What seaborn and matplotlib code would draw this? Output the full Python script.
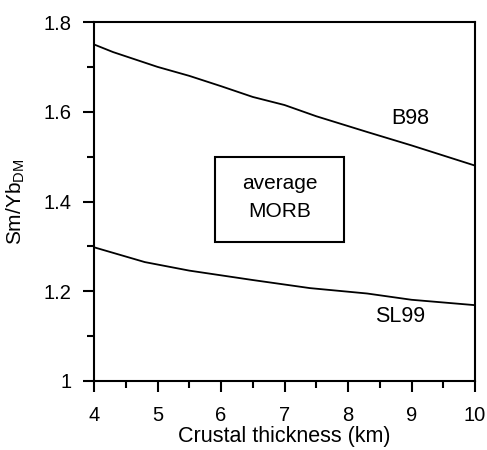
import matplotlib
matplotlib.use("Agg")
import matplotlib.pyplot as plt
import seaborn as sns
import pandas as pd
from matplotlib.ticker import MultipleLocator
from matplotlib.patches import Rectangle

b98_x = [4.0, 4.3, 5.0, 5.5, 6.0, 6.5, 7.0, 7.5, 8.3, 9.0, 10.0]
b98_y = [1.750, 1.733, 1.700, 1.680, 1.657, 1.633, 1.615, 1.590, 1.555, 1.525, 1.480]
sl99_x = [4.0, 4.8, 5.5, 6.5, 7.4, 8.3, 9.0, 10.0]
sl99_y = [1.298, 1.265, 1.246, 1.225, 1.207, 1.195, 1.181, 1.169]
x_ticks = [4, 5, 6, 7, 8, 9, 10]
y_ticks = [1.0, 1.2, 1.4, 1.6, 1.8]
y_tick_labels = ["1", "1.2", "1.4", "1.6", "1.8"]

sns.set_theme(style="white")
plt.rcParams['font.family'] = ['Liberation Sans', 'DejaVu Sans']
plt.rcParams['mathtext.fontset'] = 'custom'
plt.rcParams['mathtext.rm'] = 'Liberation Sans'
plt.rcParams['text.color'] = 'black'
plt.rcParams['axes.labelcolor'] = 'black'
plt.rcParams['xtick.color'] = 'black'
plt.rcParams['ytick.color'] = 'black'

df = pd.concat([
    pd.DataFrame({"x": b98_x, "y": b98_y, "model": "B98"}),
    pd.DataFrame({"x": sl99_x, "y": sl99_y, "model": "SL99"}),
])

fig = plt.figure(figsize=(4.87, 4.5), dpi=100)
ax = fig.add_axes([94/487, 1 - 381/450, (475-94)/487, (381-22)/450])
sns.lineplot(data=df, x="x", y="y", units="model", estimator=None,
             color="black", linewidth=1.3, ax=ax, legend=False)

ax.set_xlim(4, 10)
ax.set_ylim(1.0, 1.8)
ax.set_xticks(x_ticks)
ax.set_xticklabels([str(t) for t in x_ticks])
ax.set_yticks(y_ticks)
ax.set_yticklabels(y_tick_labels)
ax.xaxis.set_minor_locator(MultipleLocator(0.5))
ax.yaxis.set_minor_locator(MultipleLocator(0.1))
ax.tick_params(which="major", direction="out", length=8, width=1.5, labelsize=14.5,
               bottom=True, left=True, top=False, right=False,
               color="black", labelcolor="black")
ax.tick_params(which="minor", direction="out", length=5, width=1.5,
               bottom=True, left=True, top=False, right=False, color="black")
ax.tick_params(axis="x", which="major", pad=10)
ax.tick_params(axis="y", which="major", pad=8)
for s in ax.spines.values():
    s.set_color("black")
    s.set_linewidth(1.5)

ax.set_xlabel("Crustal thickness (km)", fontsize=15.5, labelpad=1, color="black")
ax.set_ylabel(r"Sm/Yb$_{\mathrm{DM}}$", fontsize=15, color="black")
ax.yaxis.set_label_coords(-0.175, 0.5)

ax.add_patch(Rectangle((5.9, 1.31), 7.94 - 5.9, 1.50 - 1.31, fill=False,
                       edgecolor="black", linewidth=1.5))
ax.text(6.92, 1.441, "average", ha="center", va="center", fontsize=15)
ax.text(6.92, 1.378, "MORB", ha="center", va="center", fontsize=15)
ax.text(8.98, 1.586, "B98", ha="center", va="center", fontsize=15.5)
ax.text(8.82, 1.143, "SL99", ha="center", va="center", fontsize=15.5)

fig.savefig("out.png", dpi=100)
